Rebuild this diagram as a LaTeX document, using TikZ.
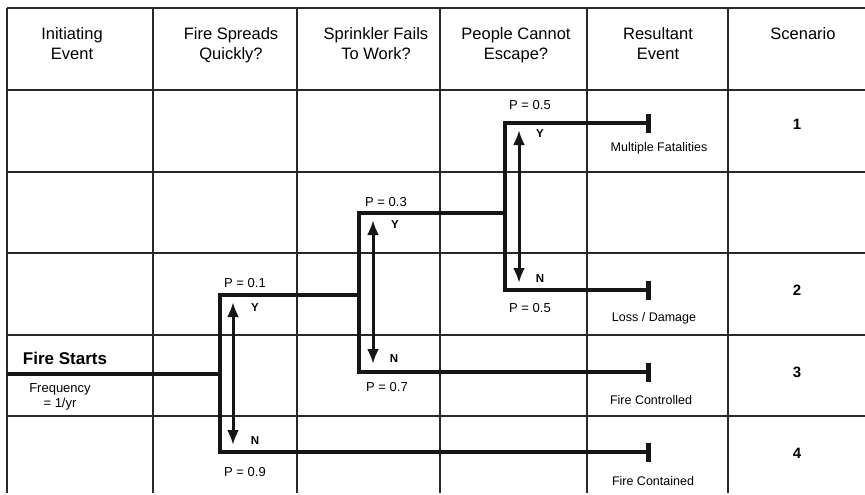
\documentclass[tikz,border=0pt]{standalone}
\usepackage{fontspec}
\setmainfont{Liberation Sans}
\usepackage{tikz}
\usetikzlibrary{arrows.meta,positioning}
\definecolor{GridGray}{RGB}{40,40,40}
\definecolor{TreeBlack}{RGB}{22,22,22}
\tikzset{
  gridline/.style={draw=GridGray,line width=1.1pt},
  branch/.style={draw=TreeBlack,line width=4.6pt,line join=miter},
  endbar/.style={-{Bar[width=19pt]}},
  choice/.style={draw=TreeBlack,line width=3pt,{Latex[length=15pt,width=12pt]}-{Latex[length=15pt,width=12pt]}},
  headtxt/.style={anchor=north,align=center,inner sep=0pt,font=\fontsize{16.5}{20}\selectfont},
  plabel/.style={inner sep=0pt,font=\fontsize{13}{15}\selectfont},
  yn/.style={inner sep=0pt,font=\fontsize{11.5}{13}\selectfont\bfseries},
  outcome/.style={inner sep=0pt,font=\fontsize{12.5}{15}\selectfont},
  scen/.style={inner sep=0pt,font=\fontsize{15}{18}\selectfont\bfseries}
}
\begin{document}
\begin{tikzpicture}[x=1pt,y=-1pt]
\useasboundingbox (0,0) rectangle (865,495);

% table
\foreach \x in {7,153,297,440,587,728}
  \draw[gridline] (\x,8) -- (\x,493);
\foreach \y in {8,90,172,253,335,416}
  \draw[gridline] (7,\y) -- (865,\y);

\node[headtxt] (h1) at (72,27) {Initiating\\Event};
\node[headtxt] (h2) at (231,27) {Fire Spreads\\Quickly?};
\node[headtxt] (h3) at (376,27) {Sprinkler Fails\\To Work?};
\node[headtxt] (h4) at (516,27) {People Cannot\\Escape?};
\node[headtxt] (h5) at (658,27) {Resultant\\Event};
\node[headtxt] (h6) at (803,27) {Scenario};

% branch points
\coordinate (start) at (7,374);
\coordinate (f1) at (220,374);
\coordinate (s1) at (359,295);
\coordinate (p1) at (505,213);
\coordinate (e1) at (651,123);
\coordinate (e2) at (651,290);
\coordinate (e3) at (651,372);
\coordinate (e4) at (651,452);

\draw[branch] (start) -- (f1);
\draw[branch] (f1) |- (s1);
\draw[branch,endbar] (f1) |- (e4);
\draw[branch] (s1) |- (p1);
\draw[branch,endbar] (s1) |- (e3);
\draw[branch,endbar] (p1) |- (e1);
\draw[branch,endbar] (p1) |- (e2);

% yes / no arrows
\coordinate (a1t) at (233,302);
\coordinate (a1b) at (233,445);
\coordinate (a2t) at (373,220);
\coordinate (a2b) at (373,364);
\coordinate (a3t) at (519,130);
\coordinate (a3b) at (519,283);
\draw[choice] (a1t) -- (a1b);
\draw[choice] (a2t) -- (a2b);
\draw[choice] (a3t) -- (a3b);

\node[font=\fontsize{17}{20}\selectfont\bfseries,inner sep=0pt] (fs) at (65,358) {Fire Starts};
\node[plabel,align=center] (freq) at (60,397) {Frequency\\= 1/yr};

\node[plabel] (p1y) at (245,283) {P = 0.1};
\node[yn] (y1) at (255,308) {Y};
\node[yn] (n1) at (255,441) {N};
\node[plabel] (p1n) at (245,472) {P = 0.9};

\node[plabel] (p2y) at (386,202) {P = 0.3};
\node[yn] (y2) at (395,225) {Y};
\node[yn] (n2) at (394,359) {N};
\node[plabel] (p2n) at (387,387) {P = 0.7};

\node[plabel] (p3y) at (530,105) {P = 0.5};
\node[yn] (y3) at (540,134) {Y};
\node[yn] (n3) at (540,279) {N};
\node[plabel] (p3n) at (530,308) {P = 0.5};

\node[outcome] (o1) at (659,148) {Multiple Fatalities};
\node[outcome] (o2) at (654,318) {Loss / Damage};
\node[outcome] (o3) at (651,400) {Fire Controlled};
\node[outcome] (o4) at (653,481) {Fire Contained};

\node[scen] (c1) at (797,124) {1};
\node[scen] (c2) at (797,290) {2};
\node[scen] (c3) at (797,372) {3};
\node[scen] (c4) at (797,453) {4};
\end{tikzpicture}
\end{document}
